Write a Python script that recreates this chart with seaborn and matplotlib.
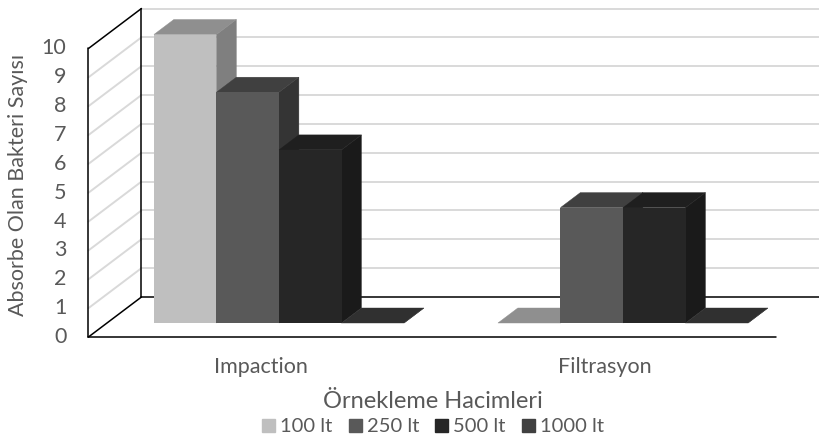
import pandas as pd
import matplotlib.pyplot as plt
import matplotlib.patches as mpatches
import seaborn as sns

# data
categories = ['Impaction', 'Filtrasyon']
volumes = ['100 lt', '250 lt', '500 lt', '1000 lt']
impaction_vals = [10, 8, 6, 0]
filtrasyon_vals = [0, 4, 4, 0]
y_ticks = list(range(0, 11))

front_colors = ['#bfbfbf', '#595959', '#262626', '#404040']
top_colors = ['#8f8f8f', '#404040', '#1f1f1f', '#303030']
side_colors = ['#7f7f7f', '#343434', '#1a1a1a', '#262626']
text_color = '#595959'

df = pd.DataFrame({
    'cat': [c for c in categories for _ in volumes],
    'hacim': volumes * len(categories),
    'value': impaction_vals + filtrasyon_vals,
})

sns.set_style('white')
plt.rcParams['font.family'] = ['Lato', 'DejaVu Sans']

W, H = 820, 442
fig = plt.figure(figsize=(W / 100, H / 100), dpi=100)
ax = fig.add_axes([0, 0, 1, 1])

sns.barplot(data=df, x='cat', y='value', hue='hacim', hue_order=volumes,
            palette=front_colors, width=0.727, saturation=1, errorbar=None,
            linewidth=0, legend=False, ax=ax)

# pixel anchors of the bar-front plane: category 0 centre, value 0, px per unit
cx0, y0px, pxx, pxy = 279, 323, 344, 28.85
ax.set_xlim(-cx0 / pxx, (W - cx0) / pxx)
ax.set_ylim(-(H - y0px) / pxy, y0px / pxy)
ax.axis('off')

# oblique depth: floor front z=0, back wall z=1, bars at z 0.35..0.725
DX, DY = 53 / pxx, 40 / pxy
ZF, ZB = 0.35, 0.725


def proj(x, y, z):
    return x + (z - ZF) * DX, y + (z - ZF) * DY


x_lo, x_hi = -0.5, len(categories) - 0.5
grid_kw = dict(color='#d9d9d9', lw=1.4, zorder=0.5)
edge_kw = dict(color='black', lw=1.1, zorder=0.6)

# back wall and left wall gridlines
for v in y_ticks[1:]:
    a, b = proj(x_lo, v, 1), proj(x_hi, v, 1)
    ax.plot([a[0], b[0]], [a[1], b[1]], **grid_kw)
    c = proj(x_lo, v, 0)
    kw = edge_kw if v == y_ticks[-1] else grid_kw
    ax.plot([c[0], a[0]], [c[1], a[1]], **kw)

# frame edges
frame = [
    (proj(x_lo, 0, 0), proj(x_lo, 10, 0)),
    (proj(x_lo, 0, 1), proj(x_lo, 10, 1)),
    (proj(x_lo, 0, 0), proj(x_lo, 0, 1)),
    (proj(x_lo, 0, 0), proj(x_hi, 0, 0)),
    (proj(x_lo, 0, 1), proj(x_hi, 0, 1)),
]
for a, b in frame:
    ax.plot([a[0], b[0]], [a[1], b[1]], **edge_kw)

# 3d faces built from the seaborn bars, left to right
bars = []
for i, cont in enumerate(ax.containers):
    for p in cont.patches:
        bars.append((p.get_x(), i, p))
bars.sort(key=lambda t: t[0])
for k, (x0, i, p) in enumerate(bars):
    w, h = p.get_width(), p.get_height()
    x1 = x0 + w
    top = [proj(x0, h, ZF), proj(x1, h, ZF), proj(x1, h, ZB), proj(x0, h, ZB)]
    side = [proj(x1, 0, ZF), proj(x1, h, ZF), proj(x1, h, ZB), proj(x1, 0, ZB)]
    z = 2 + k * 0.1
    ax.add_patch(mpatches.Polygon(side, closed=True, fc=side_colors[i],
                                  ec=side_colors[i], lw=0.3, zorder=z))
    ax.add_patch(mpatches.Polygon(top, closed=True, fc=top_colors[i],
                                  ec=top_colors[i], lw=0.3, zorder=z + 0.01))
    p.set_zorder(z + 0.02)

# value axis labels on the front edge
for v in y_ticks:
    ax.annotate(str(v), proj(x_lo, v, 0), xytext=(-22, 0),
                textcoords='offset pixels', ha='right', va='center',
                fontsize=15.5, color=text_color)

# category labels
for j, c in enumerate(categories):
    ax.annotate(c, proj(j, 0, 0), xytext=(0, -30), textcoords='offset pixels',
                ha='center', va='center', fontsize=15.5, color=text_color)

fig.text(18 / W, 1 - 185 / H, 'Absorbe Olan Bakteri Sayısı', rotation=90,
         ha='center', va='center', fontsize=15.5, color=text_color)
fig.text(433 / W, 1 - 401 / H, 'Örnekleme Hacimleri', ha='center',
         va='center', fontsize=17, color=text_color)

handles = [mpatches.Patch(color=c, label=l) for c, l in zip(front_colors, volumes)]
fig.legend(handles=handles, loc='center', bbox_to_anchor=(433 / W, 1 - 427 / H),
           ncol=4, frameon=False, fontsize=14.5, handlelength=0.65,
           handleheight=0.65, handletextpad=0.25, columnspacing=0.8,
           labelcolor=text_color, borderpad=0)

fig.savefig('out.png', dpi=100)
